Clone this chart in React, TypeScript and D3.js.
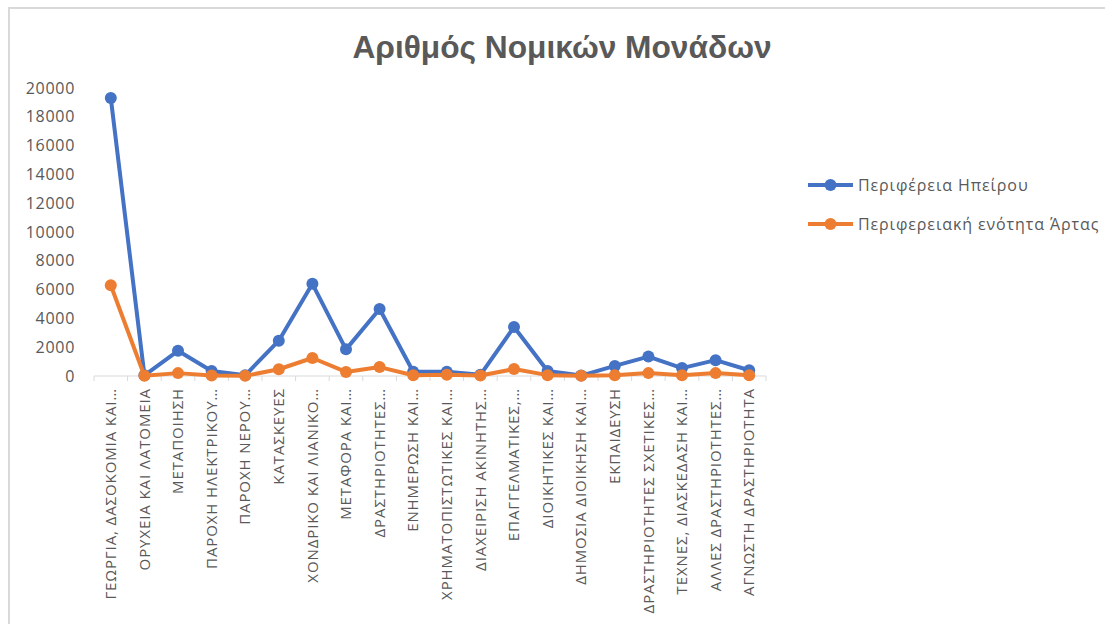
import React, { useEffect, useRef } from 'react';
import * as d3 from 'd3';

const categories = [
  'ΓΕΩΡΓΙΑ, ΔΑΣΟΚΟΜΙΑ ΚΑΙ…',
  'ΟΡΥΧΕΙΑ ΚΑΙ ΛΑΤΟΜΕΙΑ',
  'ΜΕΤΑΠΟΙΗΣΗ',
  'ΠΑΡΟΧΗ ΗΛΕΚΤΡΙΚΟΥ…',
  'ΠΑΡΟΧΗ ΝΕΡΟΥ…',
  'ΚΑΤΑΣΚΕΥΕΣ',
  'ΧΟΝΔΡΙΚΟ ΚΑΙ ΛΙΑΝΙΚΟ…',
  'ΜΕΤΑΦΟΡΑ ΚΑΙ…',
  'ΔΡΑΣΤΗΡΙΟΤΗΤΕΣ…',
  'ΕΝΗΜΕΡΩΣΗ ΚΑΙ…',
  'ΧΡΗΜΑΤΟΠΙΣΤΩΤΙΚΕΣ ΚΑΙ…',
  'ΔΙΑΧΕΙΡΙΣΗ ΑΚΙΝΗΤΗΣ…',
  'ΕΠΑΓΓΕΛΜΑΤΙΚΕΣ,…',
  'ΔΙΟΙΚΗΤΙΚΕΣ ΚΑΙ…',
  'ΔΗΜΟΣΙΑ ΔΙΟΙΚΗΣΗ ΚΑΙ…',
  'ΕΚΠΑΙΔΕΥΣΗ',
  'ΔΡΑΣΤΗΡΙΟΤΗΤΕΣ ΣΧΕΤΙΚΕΣ…',
  'ΤΕΧΝΕΣ, ΔΙΑΣΚΕΔΑΣΗ ΚΑΙ…',
  'ΑΛΛΕΣ ΔΡΑΣΤΗΡΙΟΤΗΤΕΣ…',
  'ΑΓΝΩΣΤΗ ΔΡΑΣΤΗΡΙΟΤΗΤΑ',
];

const epirus = [19300, 50, 1750, 350, 50, 2450, 6400, 1850, 4650, 300, 300, 80, 3400, 350, 30, 700, 1350, 550, 1100, 400];
const arta = [6300, 20, 200, 30, 10, 470, 1250, 280, 620, 50, 80, 40, 480, 60, 20, 60, 200, 50, 200, 60];

const seriesNames = ['Περιφέρεια Ηπείρου', 'Περιφερειακή ενότητα Άρτας'];
const seriesColors = ['#4472C4', '#ED7D31'];
const yTicks = [0, 2000, 4000, 6000, 8000, 10000, 12000, 14000, 16000, 18000, 20000];

const W = 1105, H = 624;
const FONT = '"Open Sans", "Noto Sans", sans-serif';
const GREY = '#595959';

const App = () => {
  const ref = useRef<SVGSVGElement>(null);

  useEffect(() => {
    const svg = d3.select(ref.current);
    svg.selectAll('*').remove();

    // chart frame
    svg.append('rect')
      .attr('x', 9).attr('y', 8)
      .attr('width', W + 20).attr('height', H + 20)
      .attr('fill', '#fff')
      .attr('stroke', '#d9d9d9')
      .attr('stroke-width', 2);

    svg.append('text')
      .attr('x', 562).attr('y', 58)
      .attr('text-anchor', 'middle')
      .attr('font-family', '"Liberation Sans", Arial, sans-serif')
      .attr('font-weight', 'bold')
      .attr('font-size', 31.7)
      .attr('fill', GREY)
      .text('Αριθμός Νομικών Μονάδων');

    const x = d3.scaleBand().domain(categories).range([94, 766]);
    const y = d3.scaleLinear().domain([0, 20000]).range([376, 88]);
    const cx = (c: string) => (x(c) as number) + x.bandwidth() / 2;

    // y labels
    svg.append('g').selectAll('text')
      .data(yTicks)
      .join('text')
        .attr('x', 75)
        .attr('y', d => y(d))
        .attr('dy', '0.35em')
        .attr('text-anchor', 'end')
        .attr('font-family', FONT)
        .attr('font-size', 16)
        .attr('letter-spacing', 0.7)
        .attr('fill', GREY)
        .text(d => d);

    // x axis line + ticks
    const ax = svg.append('g');
    ax.append('line')
      .attr('x1', 94).attr('x2', 766)
      .attr('y1', y(0)).attr('y2', y(0))
      .attr('stroke', '#d9d9d9').attr('stroke-width', 1);
    ax.selectAll('line.tick')
      .data(d3.range(categories.length + 1))
      .join('line')
        .attr('class', 'tick')
        .attr('x1', i => 94 + i * x.step())
        .attr('x2', i => 94 + i * x.step())
        .attr('y1', y(0)).attr('y2', y(0) + 5)
        .attr('stroke', '#d9d9d9');

    ax.selectAll('text')
      .data(categories)
      .join('text')
        .attr('transform', d => `translate(${cx(d)},388) rotate(-90)`)
        .attr('dy', '0.35em')
        .attr('text-anchor', 'end')
        .attr('font-family', FONT)
        .attr('font-size', 15)
        .attr('letter-spacing', 0.9)
        .attr('fill', GREY)
        .text(d => d);

    const line = d3.line<number>()
      .x((_, i) => cx(categories[i]))
      .y(d => y(d));

    [epirus, arta].forEach((vals, s) => {
      const g = svg.append('g');
      g.append('path')
        .attr('d', line(vals))
        .attr('fill', 'none')
        .attr('stroke', seriesColors[s])
        .attr('stroke-width', 4)
        .attr('stroke-linejoin', 'round');
      g.selectAll('circle')
        .data(vals)
        .join('circle')
          .attr('cx', (_, i) => cx(categories[i]))
          .attr('cy', d => y(d))
          .attr('r', 6)
          .attr('fill', seriesColors[s]);
    });

    // legend
    const legend = svg.append('g').attr('transform', 'translate(808,185)');
    seriesNames.forEach((name, i) => {
      const row = legend.append('g').attr('transform', `translate(0,${i * 39})`);
      row.append('line')
        .attr('x1', 0).attr('x2', 45)
        .attr('stroke', seriesColors[i]).attr('stroke-width', 4);
      row.append('circle').attr('cx', 22.5).attr('r', 6).attr('fill', seriesColors[i]);
      row.append('text')
        .attr('x', 50)
        .attr('dy', '0.35em')
        .attr('font-family', FONT)
        .attr('font-size', 16)
        .attr('letter-spacing', 0.9)
        .attr('fill', GREY)
        .text(name);
    });
  }, []);

  return (
    <svg ref={ref} width={W} height={H} style={{ position: 'absolute', left: 0, top: 0 }}></svg>
  );
};

export default App;
